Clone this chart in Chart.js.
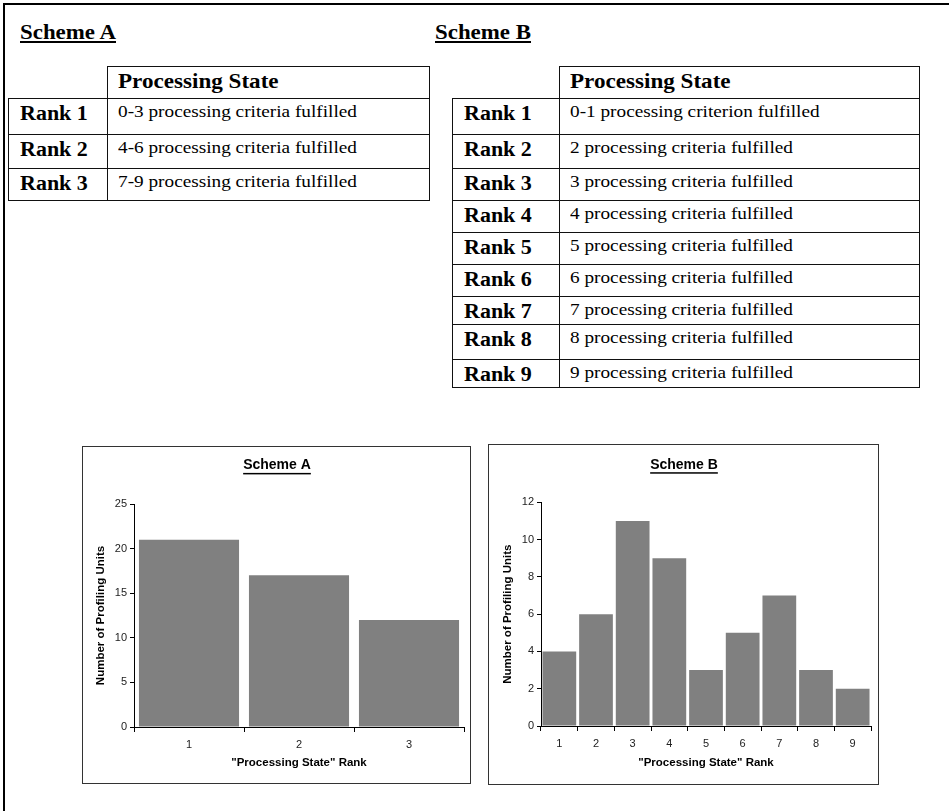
<!DOCTYPE html>
<html>
<head>
<meta charset="utf-8">
<title>Processing State Rank</title>
<script src="https://cdn.jsdelivr.net/npm/chart.js@4.4.0/dist/chart.umd.min.js"></script>
<style>
  body { margin: 0; width: 949px; height: 811px; background: #fff; position: relative; overflow: hidden;
         font-family: "Liberation Serif", "Times New Roman", serif; color: #000; }
  #frame { position: absolute; left: 3px; top: 3px; width: 960px; height: 820px;
           border-top: 2px solid #000; border-left: 2px solid #000; }
  .heading { position: absolute; font-weight: bold; font-size: 21px; line-height: 1; white-space: nowrap;
             text-decoration: underline; text-decoration-thickness: 2px; text-underline-offset: 2px;
             transform: scaleX(1.09); transform-origin: left top; }
  .cell { position: absolute; box-sizing: border-box; border: 1px solid #111; white-space: nowrap; }
  .cell span { display: inline-block; line-height: 1; transform: scaleX(1.1); transform-origin: left top; }
  .head { font-weight: bold; font-size: 21px; padding: 2px 0 0 10px; }
  .rank { font-weight: bold; font-size: 20px; padding: 3px 0 0 11px; }
  .state { font-size: 17.5px; padding: 1.5px 0 0 10px; }
  .box { position: absolute; border: 1px solid #333; }
  .box canvas { display: block; }
</style>
</head>
<body>
<div id="frame"></div>
<div class="heading" style="left:20px; top:22px;">Scheme A</div>
<div class="heading" style="left:435px; top:22px;">Scheme B</div>
<div id="tables"></div>
<div class="box" style="left:82px; top:446px;"><canvas id="chartA" width="387" height="336"></canvas></div>
<div class="box" style="left:488px; top:444px;"><canvas id="chartB" width="389" height="339"></canvas></div>

<script>
// table text
const headerText = 'Processing State';
const ranksA = ['Rank 1', 'Rank 2', 'Rank 3'];
const statesA = [
  '0-3 processing criteria fulfilled',
  '4-6 processing criteria fulfilled',
  '7-9 processing criteria fulfilled'
];
const ranksB = ['Rank 1', 'Rank 2', 'Rank 3', 'Rank 4', 'Rank 5', 'Rank 6', 'Rank 7', 'Rank 8', 'Rank 9'];
const statesB = [
  '0-1 processing criterion fulfilled',
  '2 processing criteria fulfilled',
  '3 processing criteria fulfilled',
  '4 processing criteria fulfilled',
  '5 processing criteria fulfilled',
  '6 processing criteria fulfilled',
  '7 processing criteria fulfilled',
  '8 processing criteria fulfilled',
  '9 processing criteria fulfilled'
];

// chart data
const chartTitleA = 'Scheme A';
const chartTitleB = 'Scheme B';
const xLabelsA = ['1', '2', '3'];
const unitsA = [21, 17, 12];
const xLabelsB = ['1', '2', '3', '4', '5', '6', '7', '8', '9'];
const unitsB = [4, 6, 11, 9, 3, 5, 7, 3, 2];
const yMaxA = 25, yStepA = 5;
const yMaxB = 12, yStepB = 2;
const xAxisTitle = '"Processing State" Rank';
const yAxisTitle = 'Number of Profiling Units';

// build a table out of absolutely placed cells, borders overlap by one pixel
function addCell(parent, cls, text, x, y, w, h) {
  const d = document.createElement('div');
  d.className = 'cell ' + cls;
  d.style.left = x + 'px';
  d.style.top = y + 'px';
  d.style.width = (w + 1) + 'px';
  d.style.height = (h + 1) + 'px';
  const s = document.createElement('span');
  s.textContent = text;
  d.appendChild(s);
  parent.appendChild(d);
}

function buildTable(left, top, colW, rowH, ranks, states) {
  const parent = document.getElementById('tables');
  addCell(parent, 'head', headerText, left + colW[0], top, colW[1], rowH[0]);
  let y = top + rowH[0];
  ranks.forEach((r, i) => {
    const h = rowH[i + 1];
    addCell(parent, 'rank', r, left, y, colW[0], h);
    addCell(parent, 'state', states[i], left + colW[0], y, colW[1], h);
    y += h;
  });
}

buildTable(8, 66, [99, 322], [32, 36, 34, 32], ranksA, statesA);
buildTable(452, 66, [107, 360], [32, 36, 34, 32, 32, 32, 32, 28, 35, 28], ranksB, statesB);

const FONT = "'Liberation Sans', Arial, Helvetica, sans-serif";
Chart.defaults.font.family = FONT;

// Chart.js has no underlined title, so draw the rule under it
const underlineTitle = {
  id: 'underlineTitle',
  afterDraw(chart) {
    const t = chart.titleBlock;
    const opts = chart.options.plugins.title;
    const size = opts.font.size;
    const ctx = chart.ctx;
    ctx.save();
    ctx.font = 'bold ' + size + 'px ' + FONT;
    const w = ctx.measureText(opts.text).width;
    const cx = (t.left + t.right) / 2;
    const cy = t.top + opts.padding.top + size * 1.2 / 2;
    ctx.fillStyle = '#000';
    ctx.fillRect(cx - w / 2, cy + 7.5, w, 1.5);
    ctx.restore();
  }
};

function drawChart(id, title, labels, values, yMax, yStep, o) {
  new Chart(document.getElementById(id), {
    type: 'bar',
    data: {
      labels: labels,
      datasets: [{
        data: values,
        backgroundColor: '#808080',
        borderWidth: 0,
        categoryPercentage: 1,
        barPercentage: o.bar
      }]
    },
    options: {
      responsive: false,
      animation: false,
      layout: { padding: { left: o.padLeft, right: o.padRight, top: 0, bottom: 0 } },
      plugins: {
        legend: { display: false },
        tooltip: { enabled: false },
        title: {
          display: true,
          text: title,
          color: '#000',
          font: { size: 14, weight: 'bold' },
          padding: { top: o.titleTop, bottom: o.titleBottom }
        }
      },
      scales: {
        x: {
          grid: { drawOnChartArea: false, color: '#000', tickLength: 5, offset: true },
          border: { color: '#000', width: 1 },
          ticks: { color: '#222', font: { size: 11 }, padding: 6 },
          title: {
            display: true,
            text: xAxisTitle,
            color: '#000',
            font: { size: 11.5, weight: 'bold' },
            padding: { top: 0, bottom: o.xTitleBottom }
          },
          afterFit: s => { s.height = o.xHeight; }
        },
        y: {
          min: 0,
          max: yMax,
          grid: { drawOnChartArea: false, color: '#000', tickLength: 4 },
          border: { color: '#000', width: 1 },
          ticks: { stepSize: yStep, color: '#222', font: { size: 11 }, padding: 3 },
          title: {
            display: true,
            text: yAxisTitle,
            color: '#000',
            font: { size: 11.5, weight: 'bold' },
            padding: { top: 4, bottom: 0 }
          },
          afterFit: s => { s.width = o.yWidth; }
        }
      }
    },
    plugins: [underlineTitle]
  });
}

drawChart('chartA', chartTitleA, xLabelsA, unitsA, yMaxA, yStepA, {
  bar: 0.91, padLeft: 7, padRight: 6, yWidth: 44, xHeight: 56,
  titleTop: 10, titleBottom: 30.2, xTitleBottom: 13
});
drawChart('chartB', chartTitleB, xLabelsB, unitsB, yMaxB, yStepB, {
  bar: 0.92, padLeft: 8, padRight: 7, yWidth: 44, xHeight: 58,
  titleTop: 11.3, titleBottom: 29.2, xTitleBottom: 13.8
});
</script>
</body>
</html>
